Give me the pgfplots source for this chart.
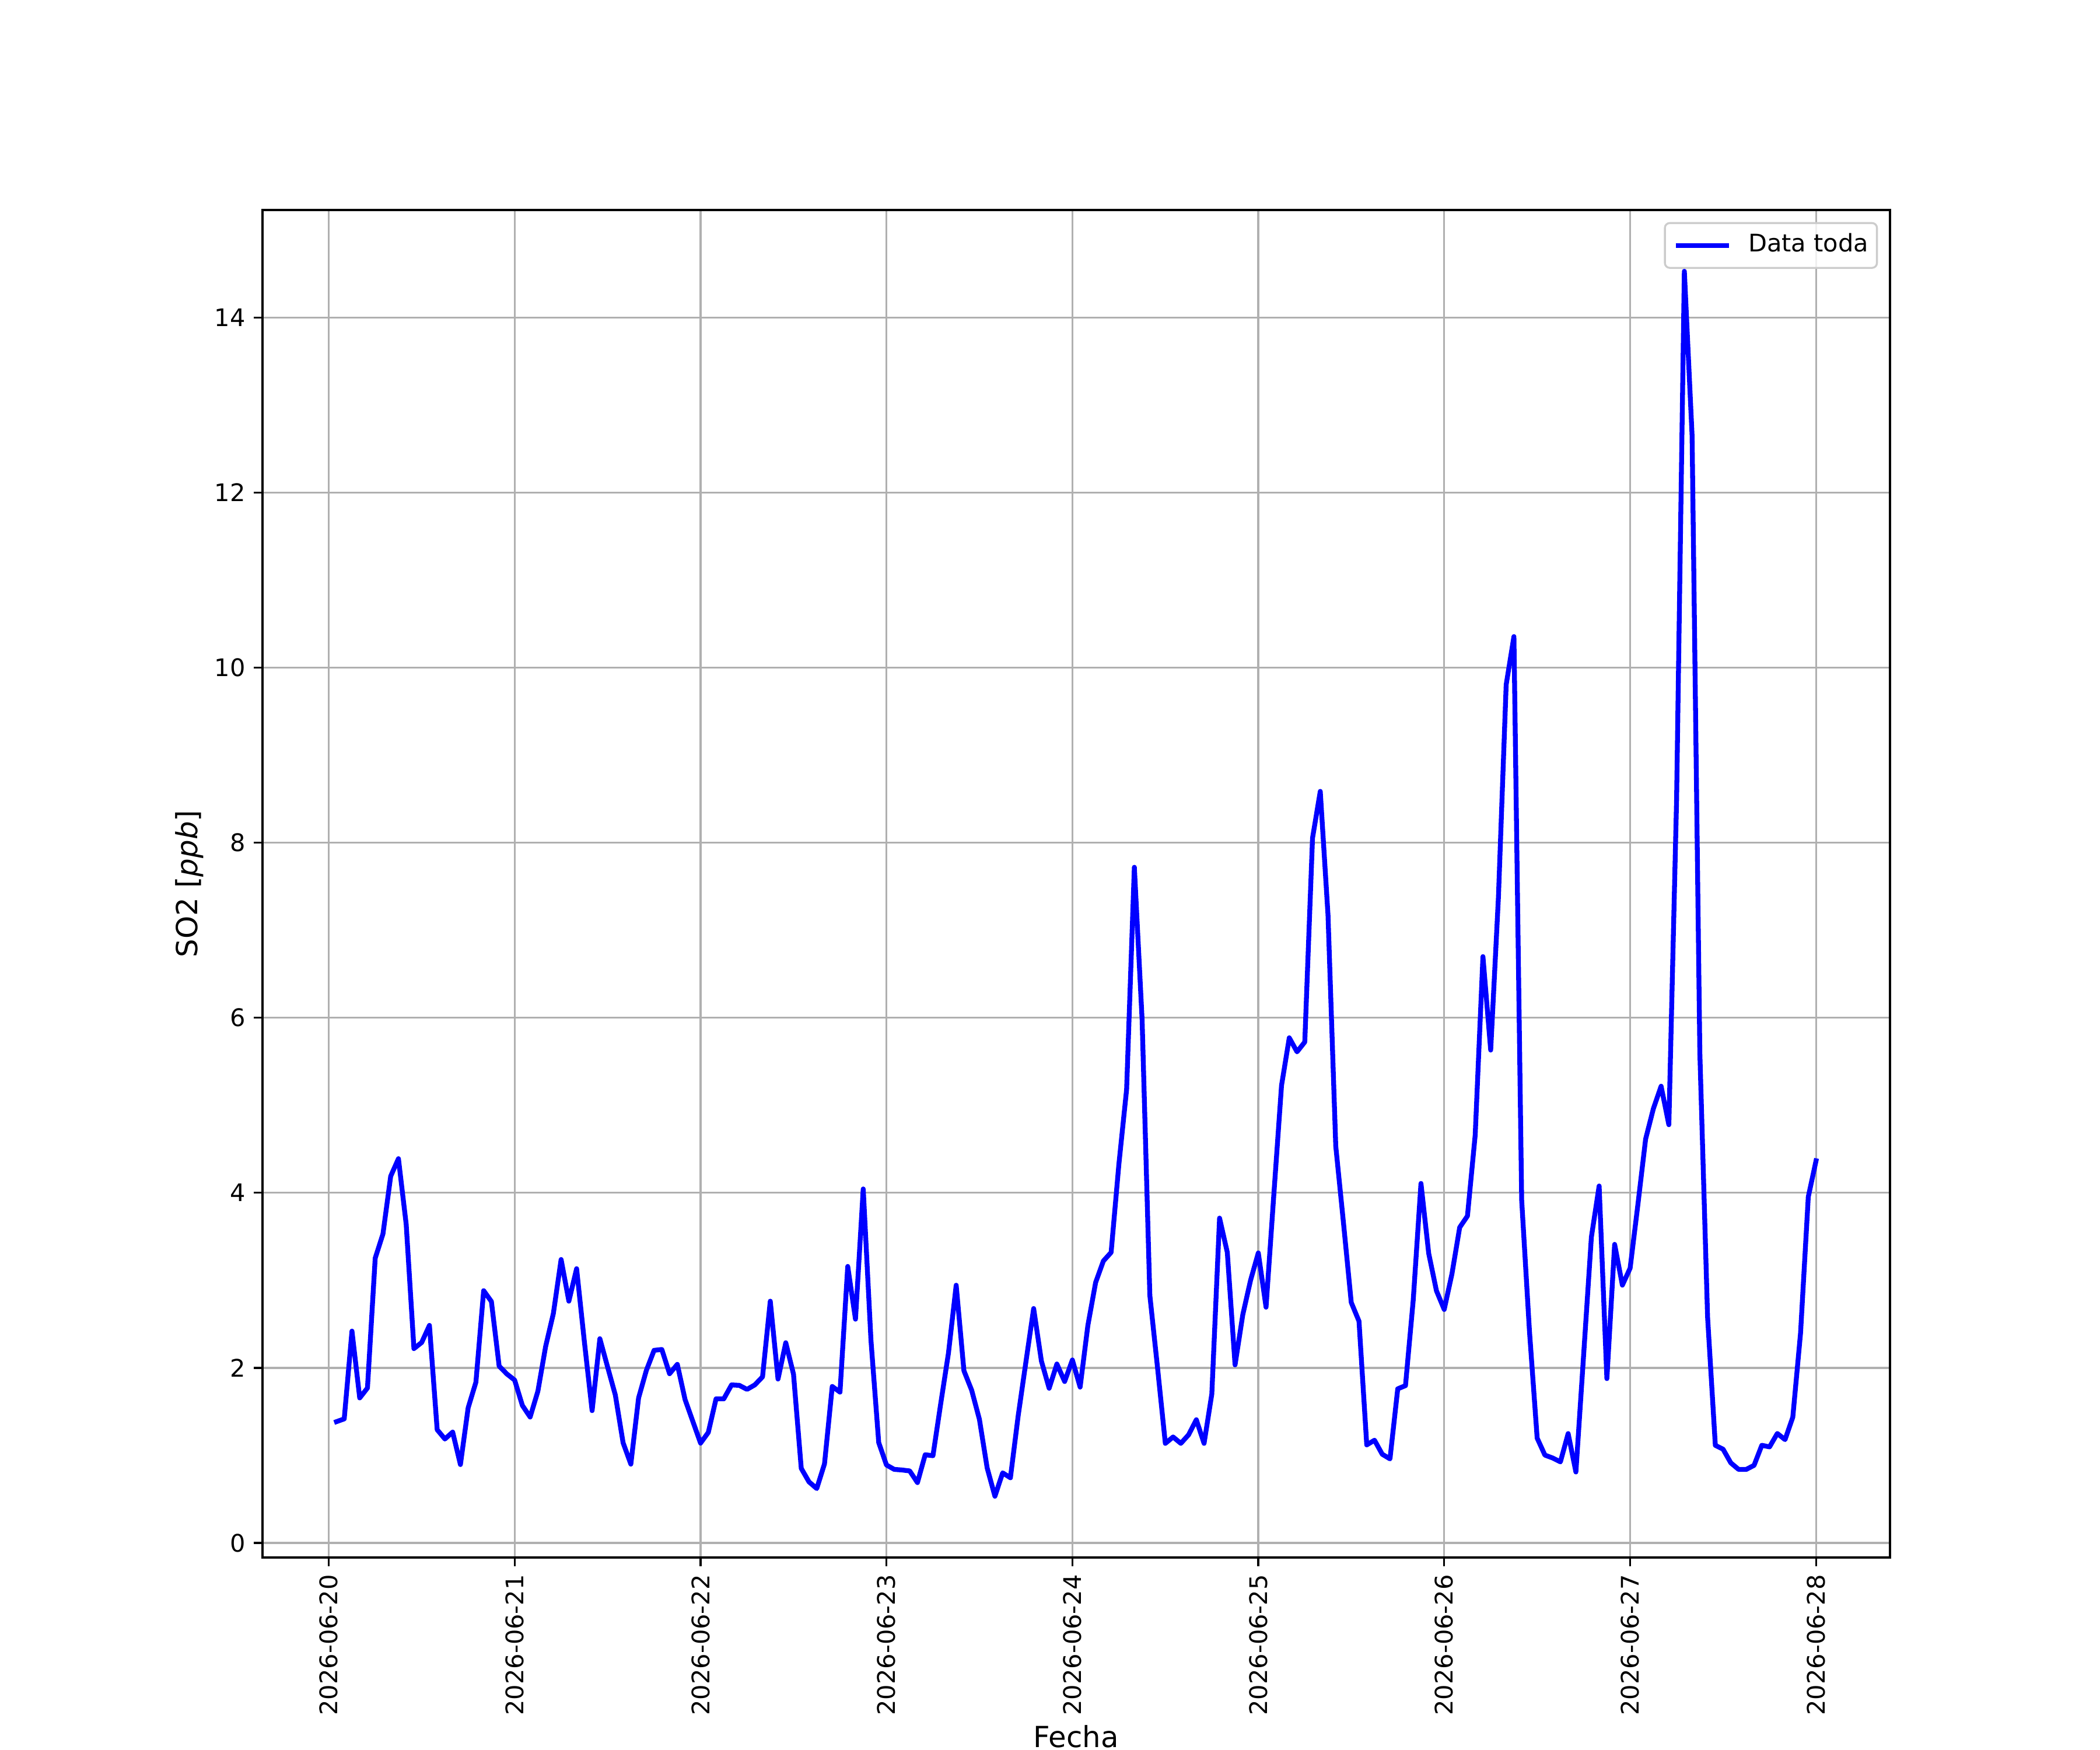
\documentclass[border=0pt]{standalone}
\usepackage{fontspec}
\setmainfont{DejaVu Sans}
\usepackage{pgfplots}
\usepackage{pgfplotstable}
\pgfplotsset{compat=1.18}
\definecolor{gridgray}{HTML}{B0B0B0}
\definecolor{legedge}{HTML}{CCCCCC}
\pgfplotstableread{
h v
1 1.385
2 1.417
3 2.42
4 1.656
5 1.77
6 3.253
7 3.53
8 4.19
9 4.39
10 3.64
11 2.22
12 2.29
13 2.485
14 1.293
15 1.187
16 1.266
17 0.895
18 1.544
19 1.836
20 2.882
21 2.758
22 2.02
23 1.93
24 1.86
25 1.57
26 1.438
27 1.733
28 2.244
29 2.622
30 3.238
31 2.762
32 3.133
33 2.3
34 1.511
35 2.333
36 2.01
37 1.689
38 1.144
39 0.9
40 1.656
41 1.97
42 2.2
43 2.21
44 1.933
45 2.04
46 1.638
47 1.389
48 1.14
49 1.262
50 1.646
51 1.646
52 1.805
53 1.8
54 1.754
55 1.805
56 1.897
57 2.762
58 1.872
59 2.287
60 1.928
61 0.851
62 0.697
63 0.621
64 0.903
65 1.787
66 1.723
67 3.159
68 2.556
69 4.044
70 2.313
71 1.146
72 0.89
73 0.84
74 0.833
75 0.822
76 0.689
77 1.007
78 0.996
79 1.589
80 2.167
81 2.944
82 1.967
83 1.744
84 1.411
85 0.856
86 0.533
87 0.8
88 0.744
89 1.45
90 2.067
91 2.678
92 2.078
93 1.767
94 2.044
95 1.844
96 2.09
97 1.78
98 2.485
99 2.975
100 3.221
101 3.319
102 4.324
103 5.181
104 7.72
105 5.98
106 2.828
107 1.995
108 1.137
109 1.21
110 1.137
111 1.235
112 1.407
113 1.137
114 1.701
115 3.711
116 3.319
117 2.034
118 2.608
119 3.0
120 3.313
121 2.693
122 3.973
123 5.227
124 5.771
125 5.611
126 5.723
127 8.053
128 8.587
129 7.173
130 4.533
131 3.653
132 2.747
133 2.533
134 1.12
135 1.173
136 1.013
137 0.96
138 1.76
139 1.797
140 2.773
141 4.107
142 3.307
143 2.88
144 2.667
145 3.074
146 3.605
147 3.735
148 4.66
149 6.699
150 5.631
151 7.379
152 9.806
153 10.356
154 3.916
155 2.427
156 1.197
157 1.003
158 0.97
159 0.926
160 1.249
161 0.81
162 2.15
163 3.495
164 4.078
165 1.877
166 3.411
167 2.945
168 3.139
169 3.863
170 4.614
171 4.961
172 5.218
173 4.778
174 8.5
175 14.53
176 12.65
177 5.6
178 2.58
179 1.115
180 1.07
181 0.914
182 0.84
183 0.84
184 0.886
185 1.115
186 1.097
187 1.25
188 1.18
189 1.436
190 2.397
191 3.954
192 4.366
}\datatable
\begin{document}
\begin{tikzpicture}
\useasboundingbox (-1.5in,-1.1in) rectangle (10.5in,8.9in);
\begin{axis}[
  at={(0,0)}, anchor=south west,
  scale only axis, width=9.3in, height=7.7in,
  xmin=-8.55, xmax=201.55, ymin=-0.167, ymax=15.23,
  axis line style={line width=0.8pt, black},
  tick align=outside, major tick length=3.5pt,
  tick style={line width=0.8pt, black},
  xtick pos=bottom, ytick pos=left,
  xtick={0,24,...,192},
  xticklabels={2026-06-20,2026-06-21,2026-06-22,2026-06-23,2026-06-24,2026-06-25,2026-06-26,2026-06-27,2026-06-28},
  ytick={0,2,...,14},
  /pgf/number format/assume math mode=true,
  tick label style={font=\fontsize{10}{12}\selectfont},
  x tick label style={rotate=90, anchor=east},
  grid=major, major grid style={line width=0.8pt, gridgray},
  xlabel={Fecha}, ylabel={SO2 [\textit{ppb}]},
  label style={font=\fontsize{12}{14.4}\selectfont},
  xlabel style={at={(axis description cs:0.5,-0.1407)}, anchor=base},
  ylabel style={at={(axis description cs:-0.0398,0.5)}, rotate=0, anchor=base},
  legend style={at={(1,1)}, anchor=north east, xshift=-5pt, yshift=-5pt,
    draw=legedge, line width=0.8pt, rounded corners=2pt, fill=white, fill opacity=0.8, text opacity=1,
    inner xsep=3.5pt, inner ysep=4.25pt,
    font=\fontsize{10}{12}\selectfont,
    nodes={inner xsep=0pt, inner ysep=0pt, text height=7.6pt, text depth=2.4pt}},
  legend cell align=left,
  legend image code/.code={\draw[#1, line cap=butt] (0pt,0pt) -- (22pt,0pt); \path (29pt,0pt);},
]
\addplot[color=blue, line width=2pt, line join=round, line cap=rect] table[x=h, y=v] {\datatable};
\addlegendentry{Data toda}
\end{axis}
\end{tikzpicture}
\end{document}
